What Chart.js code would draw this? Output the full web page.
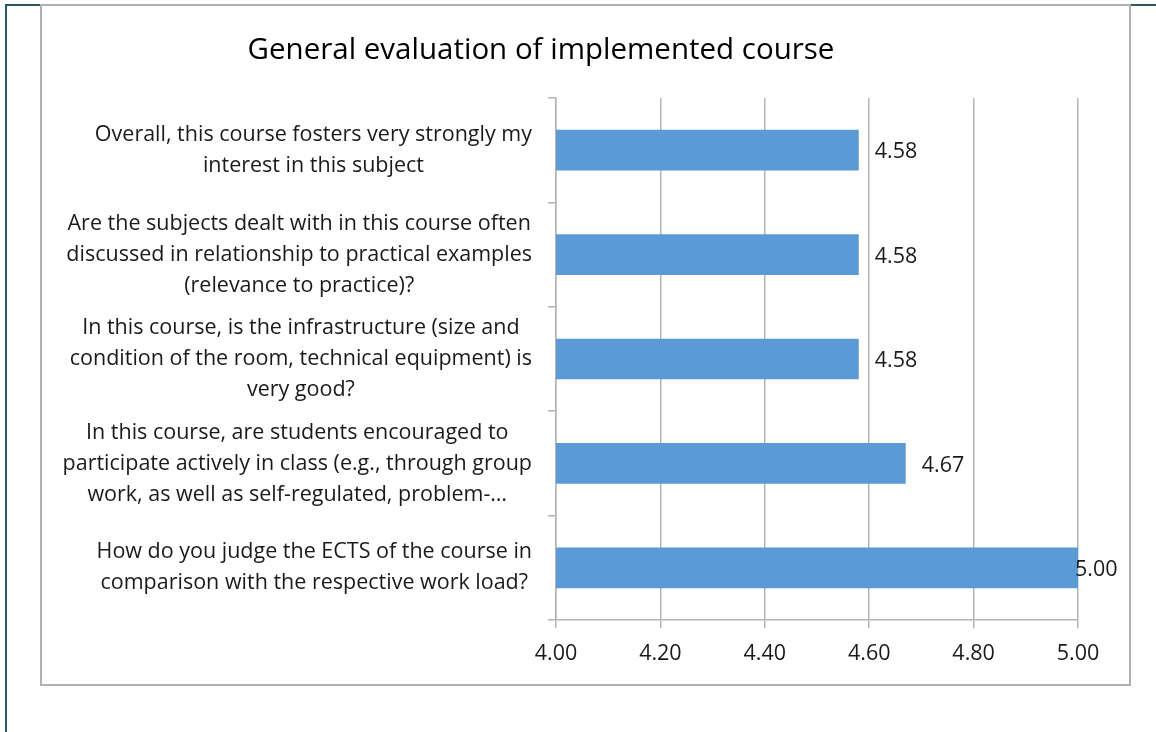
<!DOCTYPE html>
<html>
<head>
<meta charset="utf-8">
<script src="https://cdn.jsdelivr.net/npm/chart.js@4"></script>
<style>
  html, body { margin: 0; padding: 0; background: #fff; }
  #wrap { position: relative; width: 1156px; height: 732px; overflow: hidden; }
  #frame { position: absolute; left: 40px; top: 4px; width: 1087px; height: 678px; border: 2px solid #b0b0b0; }
  .teal { position: absolute; background: #2a5766; }
  canvas { position: absolute; left: 0; top: 0; }
</style>
</head>
<body>
<div id="wrap">
  <div class="teal" style="left:5px;top:4px;width:2px;height:728px"></div>
  <div class="teal" style="left:5px;top:4px;width:36px;height:2px"></div>
  <div class="teal" style="left:1128px;top:4px;width:28px;height:2px"></div>
  <div id="frame"></div>
  <canvas id="chart" width="1156" height="732"></canvas>
</div>
<script>
const chartTitle = `General evaluation of implemented course`;

const questions = [
  [`Overall, this course fosters very strongly my`, `interest in this subject`],
  [`Are the subjects dealt with in this course often`, `discussed in relationship to practical examples`, `(relevance to practice)?`],
  [`In this course, is the infrastructure (size and`, `condition of the room, technical equipment) is`, `very good?`],
  [`In this course, are students encouraged to`, `participate actively in class (e.g., through group`, `work, as well as self-regulated, problem-…`],
  [`How do you judge the ECTS of the course in`, `comparison with the respective work load?`]
];

const scores = [4.58, 4.58, 4.58, 4.67, 5.00];

const axisMin = 4.0;
const axisMax = 5.0;
const axisStep = 0.2;

const fontFamily = `"Open Sans", "Noto Sans", sans-serif`;
const gridColor = `#b4b4b4`;
const textColor = `#1a1a1a`;

// value labels next to each bar
const valueLabels = {
  id: `valueLabels`,
  afterDatasetsDraw(chart) {
    const ctx = chart.ctx;
    const area = chart.chartArea;
    ctx.save();
    ctx.font = `21.5px ${fontFamily}`;
    ctx.fillStyle = textColor;
    ctx.textBaseline = `middle`;
    ctx.textAlign = `left`;
    chart.getDatasetMeta(0).data.forEach((bar, i) => {
      const x = Math.min(bar.x + 16, area.right - 3);
      ctx.fillText(scores[i].toFixed(2), x, bar.y + 2);
    });
    ctx.restore();
  }
};

// category labels: each block right-aligned to the axis, lines centred inside the block
const categoryLabels = {
  id: `categoryLabels`,
  afterDraw(chart) {
    const ctx = chart.ctx;
    const yScale = chart.scales.y;
    const lineH = 31;
    const right = yScale.right - 8 - 16;
    ctx.save();
    ctx.font = `21.5px ${fontFamily}`;
    ctx.fillStyle = textColor;
    ctx.textBaseline = `middle`;
    ctx.textAlign = `center`;
    questions.forEach((lines, i) => {
      const w = Math.max(...lines.map((l) => ctx.measureText(l).width));
      const cx = right - w / 2;
      const cy = yScale.getPixelForTick(i);
      const y0 = cy - (lines.length - 1) * lineH / 2;
      lines.forEach((l, j) => ctx.fillText(l, cx, y0 + j * lineH));
    });
    ctx.restore();
  }
};

// eslint-disable-next-line no-unused-vars
const chart = new Chart(document.getElementById(`chart`), {
  type: `bar`,
  data: {
    labels: questions,
    datasets: [{
      data: scores,
      backgroundColor: `#5b9bd5`,
      borderWidth: 0,
      categoryPercentage: 1,
      barPercentage: 0.39
    }]
  },
  options: {
    indexAxis: `y`,
    responsive: false,
    animation: false,
    layout: {
      padding: {left: 4, right: 78, top: 4, bottom: 0}
    },
    plugins: {
      legend: {display: false},
      tooltip: {enabled: false},
      title: {
        display: true,
        text: chartTitle,
        color: `#000`,
        font: {family: fontFamily, size: 29.5, weight: `normal`},
        padding: {top: 29, bottom: 29.6}
      }
    },
    scales: {
      x: {
        min: axisMin,
        max: axisMax,
        ticks: {
          stepSize: axisStep,
          color: textColor,
          font: {family: fontFamily, size: 21.5},
          padding: 13,
          callback: (v) => Number(v).toFixed(2)
        },
        grid: {color: gridColor, lineWidth: 1.5, tickLength: 8, drawTicks: true},
        border: {color: gridColor, width: 1.5},
        afterFit(scale) {
          scale.height = 112;
          scale.paddingLeft = 0;
          scale.paddingRight = 0;
        }
      },
      y: {
        ticks: {display: false},
        grid: {color: gridColor, lineWidth: 1.5, drawOnChartArea: false, drawTicks: true, tickLength: 8, offset: true},
        border: {color: gridColor, width: 1.5},
        afterFit(scale) {
          scale.width = 552;
          scale.paddingTop = 0;
          scale.paddingBottom = 0;
        }
      }
    }
  },
  plugins: [valueLabels, categoryLabels]
});
</script>
</body>
</html>
